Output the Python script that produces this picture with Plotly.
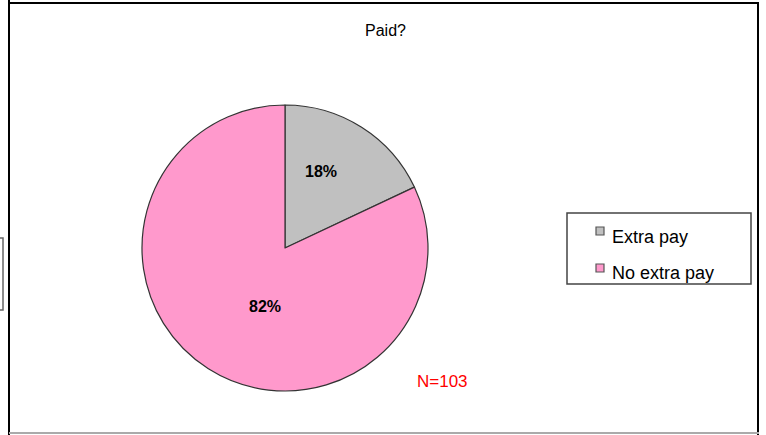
import plotly.graph_objects as go

W, H = 766, 435
categories = ["Extra pay", "No extra pay"]
values = [18, 82]
colors = ["#C0C0C0", "#FF99CC"]
title_text = "Paid?"
note_text = "N=103"

FONT = "Liberation Sans, Arial"

def px(x):
    return x / W

def py(y):
    return 1 - y / H

fig = go.Figure()
fig.add_trace(go.Pie(
    labels=categories,
    values=values,
    sort=False,
    direction="clockwise",
    rotation=0,
    marker=dict(colors=colors, line=dict(color="#333333", width=1.2)),
    textinfo="none",
    domain=dict(x=[px(142), px(428)], y=[py(391), py(105)]),
    showlegend=False,
    hoverinfo="label+percent",
))

total = sum(values)
pct_text = [f"{round(v * 100 / total)}%" for v in values]
label_pos = [(321, 171), (265, 306)]

shapes = []
# outer frame
shapes.append(dict(type="line", xref="paper", yref="paper", x0=px(9), x1=px(9), y0=py(0), y1=py(435), line=dict(color="black", width=2)))
shapes.append(dict(type="line", xref="paper", yref="paper", x0=px(9), x1=px(759), y0=py(3), y1=py(3), line=dict(color="black", width=2)))
shapes.append(dict(type="line", xref="paper", yref="paper", x0=px(758), x1=px(758), y0=py(3), y1=py(435), line=dict(color="black", width=2)))
shapes.append(dict(type="line", xref="paper", yref="paper", x0=px(9), x1=px(759), y0=py(433), y1=py(433), line=dict(color="#aaaaaa", width=2)))
# small box at left edge
shapes.append(dict(type="rect", xref="paper", yref="paper", x0=px(-2), x1=px(3), y0=py(310), y1=py(238), line=dict(color="#666666", width=1.5)))
# legend box
shapes.append(dict(type="rect", xref="paper", yref="paper", x0=px(567), x1=px(751), y0=py(284), y1=py(213), line=dict(color="#444444", width=1.5), fillcolor="white"))

annotations = [
    dict(text=title_text, x=px(385), y=py(31), xref="paper", yref="paper", showarrow=False,
         xanchor="center", yanchor="middle",
         font=dict(family=FONT, size=16, color="black")),
    dict(text=note_text, x=px(443), y=py(381), xref="paper", yref="paper", showarrow=False,
         xanchor="center", yanchor="middle",
         font=dict(family=FONT, size=17, color="red")),
]

for t, (lx, ly) in zip(pct_text, label_pos):
    annotations.append(dict(text=f"<b>{t}</b>", x=px(lx), y=py(ly), xref="paper", yref="paper", showarrow=False,
                            xanchor="center", yanchor="middle",
                            font=dict(family=FONT, size=16, color="black")))

leg_marker_y = [231, 268]
leg_text_y = [237, 273]
for cat, col, my, ty in zip(categories, colors, leg_marker_y, leg_text_y):
    shapes.append(dict(type="rect", xref="paper", yref="paper", x0=px(596), x1=px(604), y0=py(my + 4), y1=py(my - 4),
                       line=dict(color="#555555", width=1.2), fillcolor=col))
    annotations.append(dict(text=cat, x=px(610), y=py(ty), xref="paper", yref="paper", showarrow=False,
                            xanchor="left", yanchor="middle",
                            font=dict(family=FONT, size=18, color="black")))

fig.update_layout(
    width=W, height=H,
    margin=dict(l=0, r=0, t=0, b=0),
    paper_bgcolor="white",
    plot_bgcolor="white",
    shapes=shapes,
    annotations=annotations,
)

fig.write_html("out.html", config={"displayModeBar": False},
               post_script="document.body.style.margin='0';")
